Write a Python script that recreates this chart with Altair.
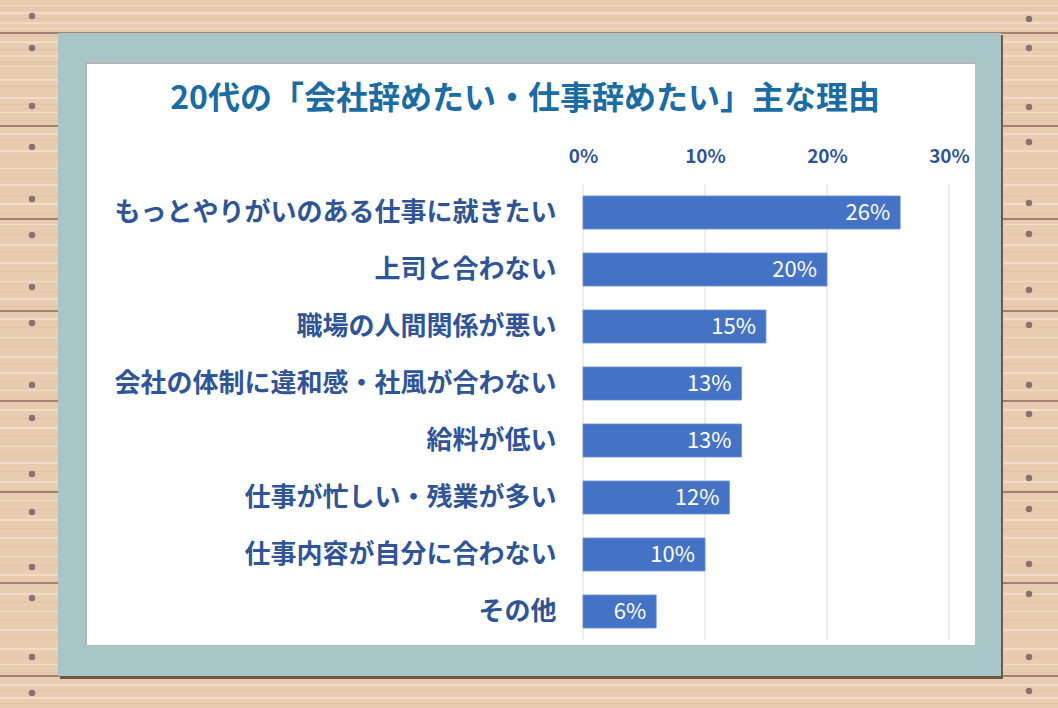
import altair as alt
import pandas as pd

# ---------------- data ----------------
categories = [
    "もっとやりがいのある仕事に就きたい",
    "上司と合わない",
    "職場の人間関係が悪い",
    "会社の体制に違和感・社風が合わない",
    "給料が低い",
    "仕事が忙しい・残業が多い",
    "仕事内容が自分に合わない",
    "その他",
]
values = [26, 20, 15, 13, 13, 12, 10, 6]
tick_values = [0, 10, 20, 30]
title_text = "20代の「会社辞めたい・仕事辞めたい」主な理由"

# ---------------- layout ----------------
W, H = 1058, 708
OX, OY = 583, 184          # plot origin in page pixels
PW, PH = 366, 456          # plot area size
FONT = "Noto Sans CJK JP"
BLUE = "#2F5597"

# ---------------- decoration (page pixels) ----------------
rects = []
def R(x, y, x2, y2, c):
    rects.append({"x": x - OX, "y": y - OY, "x2": x2 - OX, "y2": y2 - OY, "c": c})

R(0, 0, W, H, "#e8ccaf")
light = [5, 12, 22, 28, 41, 55, 66, 79, 97, 112, 133, 150, 168, 184, 203, 224, 244,
         262, 281, 298, 318, 337, 356, 372, 390, 409, 427, 446, 462, 481, 500, 519,
         537, 556, 574, 593, 611, 629, 648, 664, 684, 697]
for i, yy in enumerate(light):
    R(0, yy, W, yy + (2 if i % 3 else 1), "#f0dcc7")
dark = [9, 18, 36, 49, 62, 86, 104, 120, 140, 158, 178, 196, 213, 234, 252, 271, 291,
        306, 327, 346, 364, 381, 398, 418, 436, 454, 471, 490, 509, 528, 546, 565, 582,
        602, 620, 638, 657, 672, 690, 703]
for yy in dark:
    R(0, yy, W, yy + 1, "#e1c4a7")
# plank seams
R(0, 32, W, 34, "#a0826e")
R(0, 675, W, 677, "#a0826e")
for yy in [125, 218, 310, 400, 491, 582]:
    R(0, yy, 58, yy + 2, "#a0826e")
    R(1001, yy, W, yy + 2, "#a0826e")
# frame + shadow
R(60, 35, 1003, 679, "#6f5647")
R(58, 33, 1001, 676, "#a8c6c8")
# inner white panel
R(85, 62, 975, 645, "#b3b3b3")
R(87, 64, 975, 645, "#ffffff")
deco = pd.DataFrame(rects)

nails_left = [16, 48, 106, 147, 199, 235, 287, 323, 385, 418, 474, 512, 567, 598, 657, 693]
nails_right = [19, 48, 107, 142, 203, 234, 290, 325, 385, 414, 478, 509, 564, 594, 657, 691]
nails = pd.DataFrame(
    [{"x": 32 - OX, "y": y - OY} for y in nails_left]
    + [{"x": 1029 - OX, "y": y - OY} for y in nails_right]
)

deco_layer = alt.Chart(deco).mark_rect().encode(
    x=alt.X("x:Q", scale=None, axis=None),
    x2="x2:Q",
    y=alt.Y("y:Q", scale=None, axis=None),
    y2="y2:Q",
    color=alt.Color("c:N", scale=None, legend=None),
)
nail_layer = alt.Chart(nails).mark_circle(size=42, color="#8b7272", opacity=1).encode(
    x=alt.X("x:Q", scale=None, axis=None),
    y=alt.Y("y:Q", scale=None, axis=None),
)

# ---------------- chart ----------------
df = pd.DataFrame({"cat": categories, "v": values,
                   "lab": [f"{v}%" for v in values]})
grid_df = pd.DataFrame({"v": tick_values})

xenc = alt.X(
    "v:Q",
    scale=alt.Scale(domain=[0, 30], nice=False, zero=True),
    axis=alt.Axis(
        orient="top", values=tick_values, labelExpr="datum.value + '%'",
        title=None, ticks=False, tickSize=0, domain=False, grid=False,
        labelPadding=18, labelFontSize=19, labelFont=FONT, labelFontWeight="bold",
        labelColor=BLUE, labelFlush=False, zindex=1,
    ),
)
yenc = alt.Y(
    "cat:N", sort=categories,
    scale=alt.Scale(paddingInner=0.42, paddingOuter=0.21),
    axis=alt.Axis(
        title=None, ticks=False, domain=False, grid=False, labelPadding=27,
        labelFontSize=26, labelFont=FONT, labelFontWeight="bold",
        labelColor=BLUE, labelLimit=0, zindex=1,
    ),
)

grid_layer = alt.Chart(grid_df).mark_rule(color="#d9d9d9", strokeWidth=1).encode(
    x=xenc, y=alt.value(0), y2=alt.value(PH)
)
bars = alt.Chart(df).mark_bar(color="#4472C4", stroke="#6f93d3", strokeWidth=0.8).encode(
    x=xenc, y=yenc
)
labels = alt.Chart(df).mark_text(
    align="right", baseline="middle", dx=-10, color="white",
    fontSize=22, font=FONT,
).encode(x=xenc, y=yenc, text="lab:N")

title_layer = alt.Chart(pd.DataFrame({"t": [title_text]})).mark_text(
    align="center", baseline="middle", fontSize=32, font=FONT,
    fontWeight="bold", color="#1b6ca3",
).encode(x=alt.value(525 - OX), y=alt.value(99 - OY), text="t:N")

chart = alt.layer(
    deco_layer, nail_layer, grid_layer, bars, labels, title_layer
).properties(
    width=PW, height=PH,
    autosize=alt.AutoSizeParams(type="none"),
    padding={"left": OX, "top": OY, "right": W - OX - PW, "bottom": H - OY - PH},
).configure_view(stroke=None).configure(background="#e8ccaf")

chart.save("out.html", embed_options={"renderer": "svg", "actions": False})
